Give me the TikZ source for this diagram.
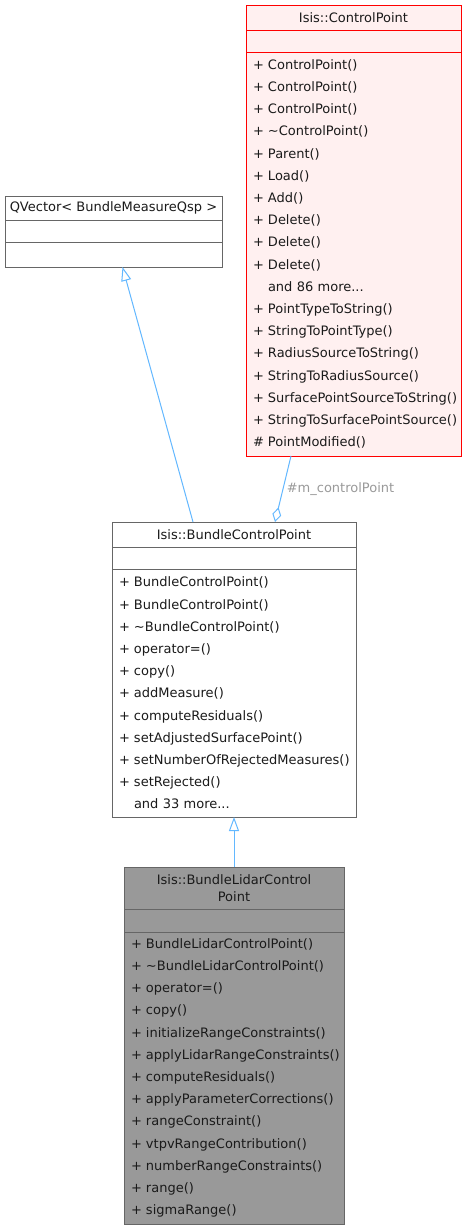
\documentclass[tikz,border=0pt]{standalone}
\usepackage{fontspec}
\setmainfont{DejaVu Sans}
\usetikzlibrary{positioning,arrows.meta}
\definecolor{edgeblue}{HTML}{63B8FF}
\definecolor{boxgray}{HTML}{666666}
\definecolor{basered}{HTML}{FF0000}
\definecolor{basefill}{HTML}{FFF0F0}
\definecolor{focusfill}{HTML}{999999}
\definecolor{labelgray}{HTML}{9A9A9A}
\definecolor{textdark}{HTML}{1A1A1A}
\newcommand{\op}[2]{\makebox[15pt][l]{#1}#2}
\begin{document}
\begin{tikzpicture}[x=1pt,y=-1pt,
    font=\fontsize{13}{22.2}\selectfont,text=textdark,
    part/.style={rectangle,draw=boxgray,fill=white,line width=0.9pt,inner sep=0pt,outer sep=0pt},
    basepart/.style={part,draw=basered,fill=basefill},
    focuspart/.style={part,fill=focusfill},
    ops/.style={align=left,inner xsep=7pt,text width=#1},
    inherit/.style={draw=edgeblue,line width=1pt,-{Triangle[open,fill=white,length=14pt,width=10pt]}},
    aggr/.style={draw=edgeblue,line width=1pt,-{Diamond[open,fill=white,length=15pt,width=9pt]}}]
  \fill[white] (0,0) rectangle (467,1230);
  \useasboundingbox (0,0) rectangle (467,1230);
  \node[basepart,anchor=north west,minimum width=215pt,minimum height=25pt] (cp) at (246,5) {Isis::ControlPoint};
  \node[basepart,below=0pt of cp,minimum width=215pt,minimum height=22pt] (cpattr) {};
  \node[basepart,ops=201pt,below=0pt of cpattr,minimum height=404pt] (cpops) {%
    \op{+}{ControlPoint()}\\
    \op{+}{ControlPoint()}\\
    \op{+}{ControlPoint()}\\
    \op{+}{\textasciitilde ControlPoint()}\\
    \op{+}{Parent()}\\
    \op{+}{Load()}\\
    \op{+}{Add()}\\
    \op{+}{Delete()}\\
    \op{+}{Delete()}\\
    \op{+}{Delete()}\\
    \op{}{and 86 more...}\\
    \op{+}{PointTypeToString()}\\
    \op{+}{StringToPointType()}\\
    \op{+}{RadiusSourceToString()}\\
    \op{+}{StringToRadiusSource()}\\
    \op{+}{SurfacePointSourceToString()}\\
    \op{+}{StringToSurfacePointSource()}\\
    \op{\#}{PointModified()}};
  \node[part,anchor=north west,minimum width=217pt,minimum height=24pt] (qv) at (5,196) {QVector< BundleMeasureQsp >};
  \node[part,below=0pt of qv,minimum width=217pt,minimum height=22pt] (qvattr) {};
  \node[part,below=0pt of qvattr,minimum width=217pt,minimum height=25pt] (qvops) {};
  \node[part,anchor=north west,minimum width=244pt,minimum height=25pt] (bcp) at (112,522) {Isis::BundleControlPoint};
  \node[part,below=0pt of bcp,minimum width=244pt,minimum height=22pt] (bcpattr) {};
  \node[part,ops=230pt,below=0pt of bcpattr,minimum height=248pt] (bcpops) {%
    \op{+}{BundleControlPoint()}\\
    \op{+}{BundleControlPoint()}\\
    \op{+}{\textasciitilde BundleControlPoint()}\\
    \op{+}{operator=()}\\
    \op{+}{copy()}\\
    \op{+}{addMeasure()}\\
    \op{+}{computeResiduals()}\\
    \op{+}{setAdjustedSurfacePoint()}\\
    \op{+}{setNumberOfRejectedMeasures()}\\
    \op{+}{setRejected()}\\
    \op{}{and 33 more...}};
  \node[focuspart,anchor=north west,minimum width=220pt,minimum height=42pt,align=center,
    font=\fontsize{13}{17}\selectfont] (blcp) at (124,867) {Isis::BundleLidarControl\\Point};
  \node[focuspart,below=0pt of blcp,minimum width=220pt,minimum height=23pt] (blcpattr) {};
  \node[focuspart,ops=206pt,below=0pt of blcpattr,minimum height=292pt] (blcpops) {%
    \op{+}{BundleLidarControlPoint()}\\
    \op{+}{\textasciitilde BundleLidarControlPoint()}\\
    \op{+}{operator=()}\\
    \op{+}{copy()}\\
    \op{+}{initializeRangeConstraints()}\\
    \op{+}{applyLidarRangeConstraints()}\\
    \op{+}{computeResiduals()}\\
    \op{+}{applyParameterCorrections()}\\
    \op{+}{rangeConstraint()}\\
    \op{+}{vtpvRangeContribution()}\\
    \op{+}{numberRangeConstraints()}\\
    \op{+}{range()}\\
    \op{+}{sigmaRange()}};
  \draw[inherit] ([xshift=-41pt]bcp.north) -- ([xshift=9pt]qvops.south);
  \draw[aggr] ([xshift=-62.5pt]cpops.south) -- node[right,text=labelgray] (aggrlabel) {\#m\_controlPoint} ([xshift=41pt]bcp.north);
  \draw[inherit] (blcp.north) -- (bcpops.south);
\end{tikzpicture}
\end{document}
